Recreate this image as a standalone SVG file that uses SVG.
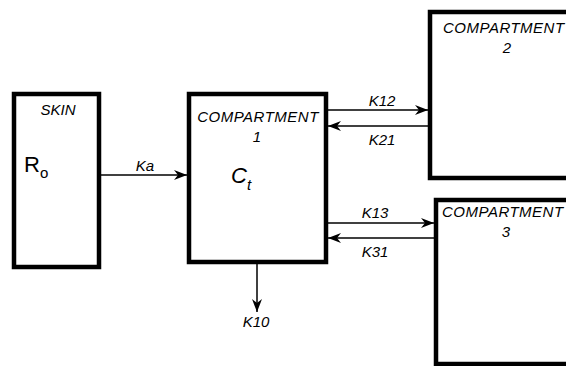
<svg xmlns="http://www.w3.org/2000/svg" width="566" height="366" viewBox="0 0 566 366">
<style>
.box{fill:#fff;stroke:#000;stroke-width:4.5}
.lbl{font-family:"Liberation Sans",Arial,sans-serif;font-style:italic;font-size:15px;fill:#000}
.title{font-family:"Liberation Sans",Arial,sans-serif;font-style:italic;font-size:15px;letter-spacing:0.5px;fill:#000}
.num{font-family:"Liberation Sans",Arial,sans-serif;font-style:italic;font-size:15px;fill:#000}
.big{font-family:"Liberation Sans",Arial,sans-serif;font-size:22px;fill:#000}
.sub{font-family:"Liberation Sans",Arial,sans-serif;font-size:15px;fill:#000}
.line{stroke:#000;stroke-width:1.5;fill:none}
</style>
<defs>
<marker id="ah" markerUnits="userSpaceOnUse" markerWidth="14" markerHeight="10" refX="13" refY="5" orient="auto">
<path d="M0,0 L13,5 L0,10 L4,5 z" fill="#000"/>
</marker>
</defs>
<g id="skin">
<rect class="box" x="14" y="94" width="85" height="173"/>
<text class="lbl" x="58" y="115" text-anchor="middle">SKIN</text>
<text class="big" x="24" y="172">R<tspan class="sub" dy="6">o</tspan></text>
</g>
<g id="compartment1">
<rect class="box" x="189" y="94" width="137" height="168"/>
<text class="title" x="258" y="122" text-anchor="middle">COMPARTMENT</text>
<text class="num" x="257" y="142" text-anchor="middle">1</text>
<text class="big" x="231" y="183" font-style="italic">C<tspan class="sub" dy="7" font-style="italic">t</tspan></text>
</g>
<g id="compartment2">
<rect class="box" x="430" y="12" width="150" height="166"/>
<text class="title" x="443" y="33">COMPARTMENT</text>
<text class="num" x="507" y="53" text-anchor="middle">2</text>
</g>
<g id="compartment3">
<rect class="box" x="436" y="200" width="150" height="164"/>
<text class="title" x="442" y="217">COMPARTMENT</text>
<text class="num" x="506" y="237" text-anchor="middle">3</text>
</g>
<g id="connectors">
<line class="line" x1="101" y1="175" x2="187" y2="175" marker-end="url(#ah)"/>
<text class="lbl" x="145" y="171" text-anchor="middle">Ka</text>
<line class="line" x1="328" y1="110" x2="428" y2="110" marker-end="url(#ah)"/>
<text class="lbl" x="382" y="106" text-anchor="middle">K12</text>
<line class="line" x1="428" y1="126" x2="328" y2="126" marker-end="url(#ah)"/>
<text class="lbl" x="382" y="145" text-anchor="middle">K21</text>
<line class="line" x1="328" y1="223" x2="434" y2="223" marker-end="url(#ah)"/>
<text class="lbl" x="375" y="218" text-anchor="middle">K13</text>
<line class="line" x1="434" y1="238" x2="328" y2="238" marker-end="url(#ah)"/>
<text class="lbl" x="375" y="257" text-anchor="middle">K31</text>
<line class="line" x1="257" y1="264" x2="257" y2="312" marker-end="url(#ah)"/>
<text class="lbl" x="256" y="327" text-anchor="middle">K10</text>
</g>
</svg>
